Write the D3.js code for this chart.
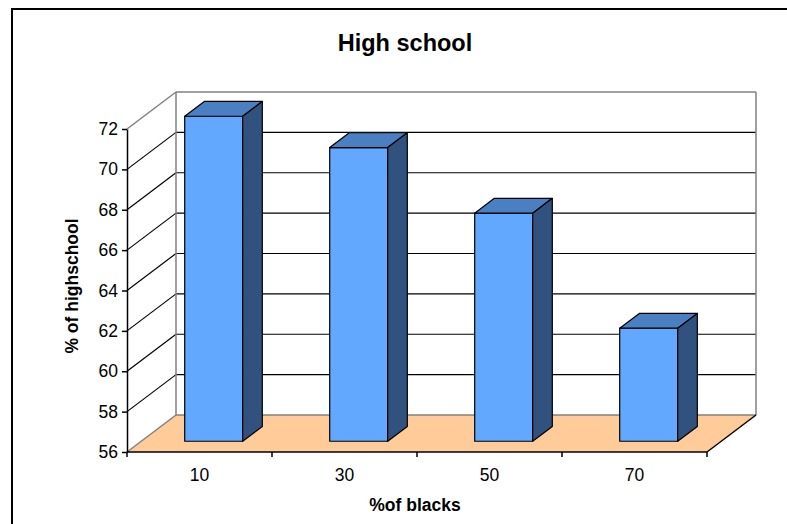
<!DOCTYPE html>
<html><head><meta charset="utf-8">
<script src="https://cdn.jsdelivr.net/npm/d3@7"></script>
<style>
html,body{margin:0;padding:0;background:#fff;}
svg{display:block;font-family:"Liberation Sans",Arial,sans-serif;}
</style></head>
<body><svg id="chart" width="787" height="524"></svg>
<script>
const categories = ["10", "30", "50", "70"];
const values = [72.1, 70.55, 67.3, 61.6];
const yTicks = [56, 58, 60, 62, 64, 66, 68, 70, 72];
const titleText = "High school";
const yLabelText = "% of highschool";
const xLabelText = "%of blacks";

const svg = d3.select("#chart");

// border
svg.append("rect").attr("x", 12).attr("y", 9).attr("width", 800).attr("height", 600)
  .attr("fill", "#fff").attr("stroke", "#000").attr("stroke-width", 2);

const x0 = 127, x1 = 707;
const y = d3.scaleLinear().domain([56, 72]).range([452, 129]);
const xb = d3.scaleBand().domain(categories).range([x0, x1]).paddingInner(0.6).paddingOuter(0.3);
const xc = d3.scaleBand().domain(categories).range([x0, x1]).padding(0);
const D = {dx: 49, dy: -37};
const f1 = 0.29, f2 = 0.69;
const yMin = 56, yMax = 72;

const g = svg.append("g");
const wallGray = "#808080";

const floorPts = [[x0, y(yMin)], [x1, y(yMin)], [x1 + D.dx, y(yMin) + D.dy], [x0 + D.dx, y(yMin) + D.dy]];
g.append("polygon").attr("points", floorPts.map(p => p.join(",")).join(" "))
  .attr("fill", "#FFCC99").attr("stroke", "none");

yTicks.filter(t => t > yMin && t < yMax).forEach(t => {
  g.append("line").attr("x1", x0).attr("y1", y(t)).attr("x2", x0 + D.dx).attr("y2", y(t) + D.dy)
    .attr("stroke", "#000").attr("stroke-width", 1.2);
  g.append("line").attr("x1", x0 + D.dx).attr("y1", y(t) + D.dy).attr("x2", x1 + D.dx).attr("y2", y(t) + D.dy)
    .attr("stroke", "#000").attr("stroke-width", 1.2);
});

const edge = (a, b, c) => g.append("line").attr("x1", a[0]).attr("y1", a[1]).attr("x2", b[0]).attr("y2", b[1])
  .attr("stroke", c || wallGray).attr("stroke-width", 1.5);
edge([x0, y(yMax)], [x0 + D.dx, y(yMax) + D.dy]);
edge([x0 + D.dx, y(yMax) + D.dy], [x1 + D.dx, y(yMax) + D.dy]);
edge([x0 + D.dx, y(yMax) + D.dy], [x0 + D.dx, y(yMin) + D.dy]);
edge([x1 + D.dx, y(yMax) + D.dy], [x1 + D.dx, y(yMin) + D.dy]);
edge([x0 + D.dx, y(yMin) + D.dy], [x1 + D.dx, y(yMin) + D.dy]);
edge([x0, y(yMin)], [x0 + D.dx, y(yMin) + D.dy]);
edge([x1, y(yMin)], [x1 + D.dx, y(yMin) + D.dy], "#000");

const bw = xb.bandwidth();
const frontCol = "#62A8FF", topCol = "#4A7FC1", sideCol = "#31527E";
categories.forEach((c, i) => {
  const v = values[i];
  const fx = xb(c) + f1 * D.dx, fyT = y(v) + f1 * D.dy, fyB = y(yMin) + f1 * D.dy;
  const ddx = (f2 - f1) * D.dx, ddy = (f2 - f1) * D.dy;
  const poly = (pts, fill) => g.append("polygon").attr("points", pts.map(p => p.join(",")).join(" "))
    .attr("fill", fill).attr("stroke", "#000").attr("stroke-width", 1.2).attr("stroke-linejoin", "round");
  poly([[fx, fyT], [fx + bw, fyT], [fx + bw, fyB], [fx, fyB]], frontCol);
  poly([[fx, fyT], [fx + ddx, fyT + ddy], [fx + bw + ddx, fyT + ddy], [fx + bw, fyT]], topCol);
  poly([[fx + bw, fyT], [fx + bw + ddx, fyT + ddy], [fx + bw + ddx, fyB + ddy], [fx + bw, fyB]], sideCol);
});

const yAxis = g.append("g").attr("transform", `translate(${x0},0)`)
  .call(d3.axisLeft(y).tickValues(yTicks).tickSize(5).tickSizeOuter(0).tickPadding(4).tickFormat(d3.format("d")));
yAxis.select(".domain").attr("stroke", "#000").attr("stroke-width", 1.5);
yAxis.selectAll(".tick line").attr("stroke", "#000").attr("stroke-width", 1.5);
yAxis.selectAll(".tick text").attr("fill", "#000").attr("font-size", 17.5)
  .attr("font-family", "'Liberation Sans', Arial, sans-serif");

const bounds = categories.map(c => xc(c)).concat([x1]);
g.append("line").attr("x1", x0).attr("y1", y(yMin)).attr("x2", x1).attr("y2", y(yMin))
  .attr("stroke", "#000").attr("stroke-width", 1.5);
bounds.forEach(b => {
  g.append("line").attr("x1", b).attr("y1", y(yMin)).attr("x2", b).attr("y2", y(yMin) + 5)
    .attr("stroke", "#000").attr("stroke-width", 1.5);
});
categories.forEach(c => {
  g.append("text").attr("x", xc(c) + xc.bandwidth() / 2).attr("y", 481)
    .attr("text-anchor", "middle").attr("font-size", 17.5).attr("fill", "#000").text(c);
});

svg.append("text").attr("x", 405).attr("y", 51).attr("text-anchor", "middle")
  .attr("font-size", 23.5).attr("font-weight", "bold").text(titleText);
svg.append("text").attr("transform", "translate(78,286) rotate(-90)").attr("text-anchor", "middle")
  .attr("font-size", 17.5).attr("font-weight", "bold").text(yLabelText);
svg.append("text").attr("x", 415).attr("y", 511).attr("text-anchor", "middle")
  .attr("font-size", 17.5).attr("font-weight", "bold").text(xLabelText);
</script></body></html>
